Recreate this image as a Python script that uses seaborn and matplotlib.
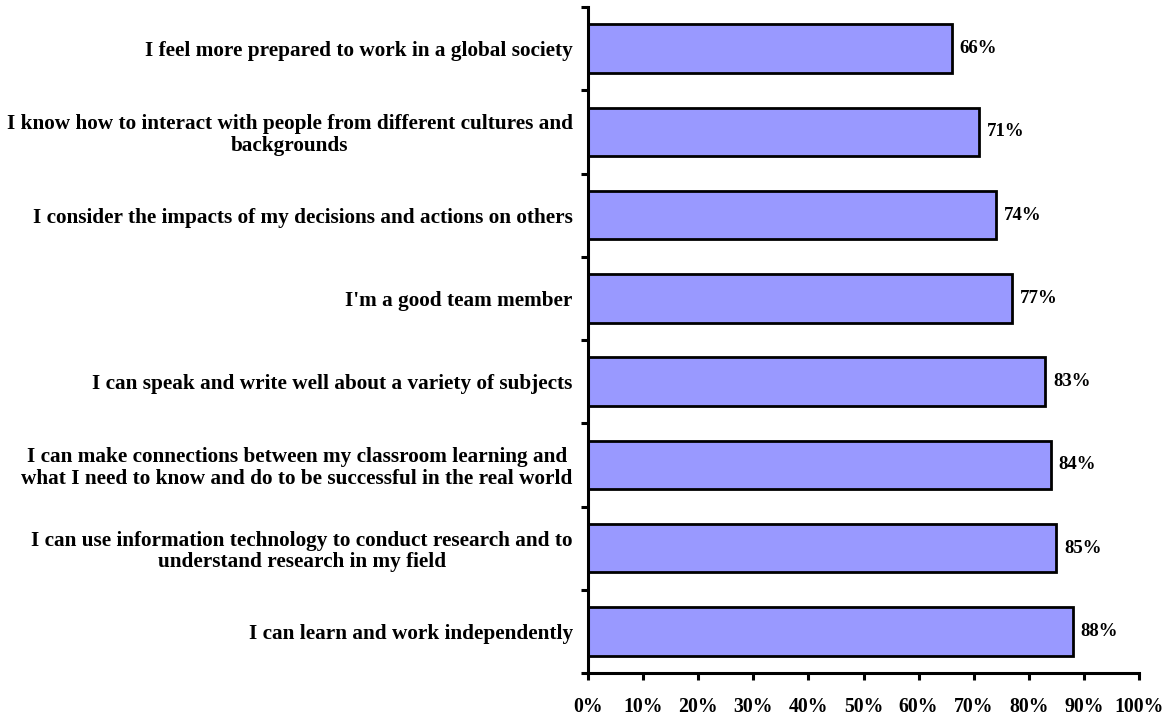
import matplotlib
matplotlib.use("Agg")
import matplotlib.pyplot as plt
from matplotlib.ticker import FixedLocator, PercentFormatter
import seaborn as sns
import pandas as pd

statements = [
    "I feel more prepared to work in a global society",
    "I know how to interact with people from different cultures and\nbackgrounds",
    "I consider the impacts of my decisions and actions on others",
    "I'm a good team member",
    "I can speak and write well about a variety of subjects",
    "I can make connections between my classroom learning and\nwhat I need to know and do to be successful in the real world",
    "I can use information technology to conduct research and to\nunderstand research in my field",
    "I can learn and work independently",
]
agree_pct = [66, 71, 74, 77, 83, 84, 85, 88]
x_ticks = [0, 10, 20, 30, 40, 50, 60, 70, 80, 90, 100]

df = pd.DataFrame({"statement": statements, "pct": agree_pct})

sns.set_style("white")
plt.rcParams["font.family"] = ["Liberation Serif", "DejaVu Serif"]
plt.rcParams["font.weight"] = "bold"

fig = plt.figure(figsize=(11.69, 7.16), dpi=100)
ax = fig.add_axes([588 / 1169, 1 - 673 / 716, (1139 - 588) / 1169, (673 - 7) / 716])

sns.barplot(data=df, x="pct", y="statement", orient="h", color="#9999FF",
            edgecolor="black", linewidth=2.0, width=0.58, saturation=1, ax=ax)

for i, v in enumerate(agree_pct):
    ax.text(v + 1.4, i, f"{v}%", va="center", ha="left",
            fontsize=13.5, fontweight="bold", color="black")

ax.set_xlim(0, 100)
ax.set_ylim(len(statements) - 0.5, -0.5)
ax.set_xlabel("")
ax.set_ylabel("")

ax.xaxis.set_major_locator(FixedLocator(x_ticks))
ax.xaxis.set_major_formatter(PercentFormatter(decimals=0))
ax.tick_params(axis="x", direction="out", length=5, width=2.2, pad=12,
               labelsize=14.2, bottom=True, color="black", labelcolor="black")

ax.set_yticks(range(len(statements)))
ax.set_yticklabels(statements, multialignment="center", fontsize=15.3,
                   fontweight="bold", color="black", linespacing=1.1)
ax.set_yticks([i - 0.5 for i in range(len(statements) + 1)], minor=True)
ax.tick_params(axis="y", which="major", length=0, pad=11)
ax.tick_params(axis="y", which="minor", direction="out", length=5, width=2.2,
               left=True, color="black")

for side in ["top", "right"]:
    ax.spines[side].set_visible(False)
for side in ["left", "bottom"]:
    ax.spines[side].set_linewidth(2.2)
    ax.spines[side].set_color("black")

fig.savefig("out.png", dpi=100)
